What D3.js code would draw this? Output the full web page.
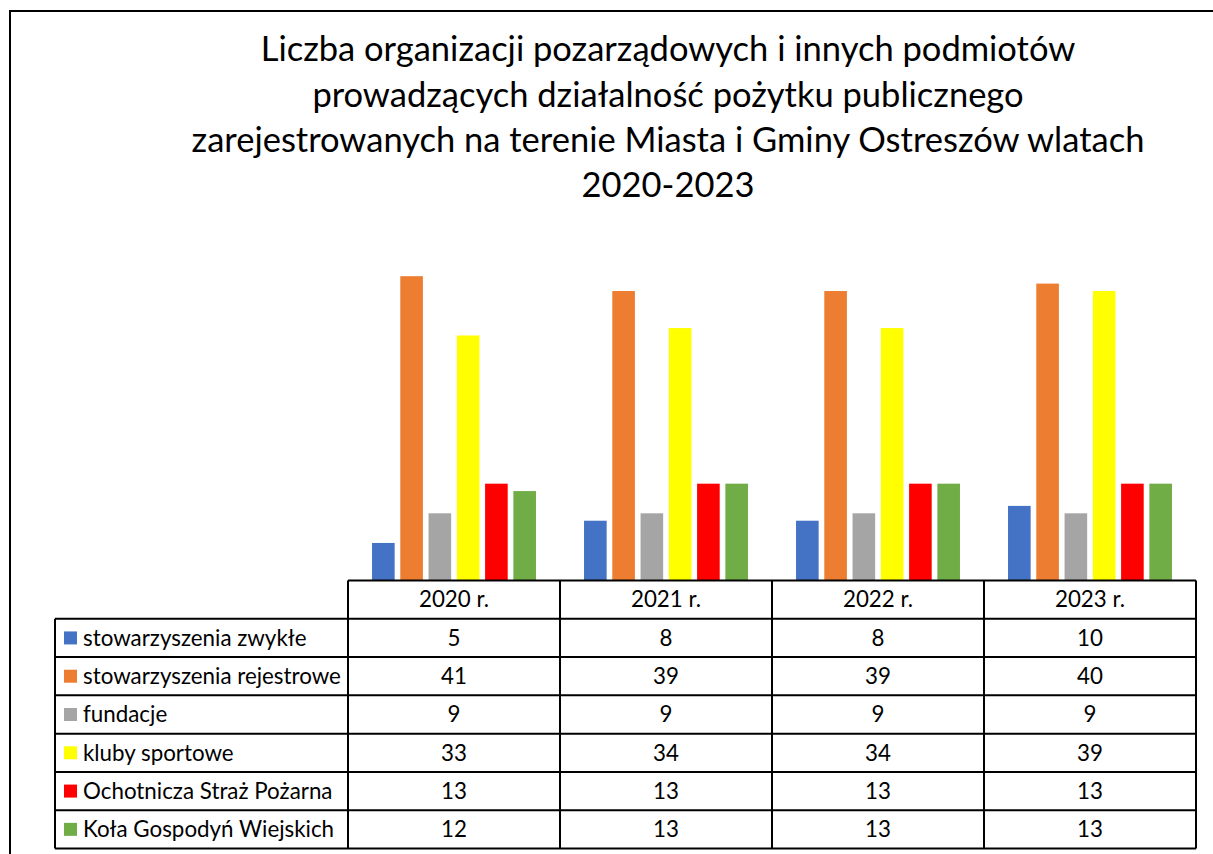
<!DOCTYPE html>
<html>
<head>
<meta charset="utf-8">
<script src="https://cdn.jsdelivr.net/npm/d3@7/dist/d3.min.js"></script>
<style>
  html, body { margin: 0; padding: 0; background: #fff; }
  svg { display: block; }
  text { font-family: Lato, "Open Sans", "Noto Sans", sans-serif; fill: #000; }
</style>
</head>
<body>
<svg id="chart" width="1213" height="854"></svg>
<script>
const titleLines = [
  "Liczba organizacji pozarządowych i innych podmiotów",
  "prowadzących działalność pożytku publicznego",
  "zarejestrowanych na terenie Miasta i Gminy Ostreszów wlatach",
  "2020-2023"
];
const categories = ["2020 r.", "2021 r.", "2022 r.", "2023 r."];
const seriesNames = [
  "stowarzyszenia zwykłe",
  "stowarzyszenia rejestrowe",
  "fundacje",
  "kluby sportowe",
  "Ochotnicza Straż Pożarna",
  "Koła Gospodyń Wiejskich"
];
const seriesColors = ["#4472C4", "#ED7D31", "#A5A5A5", "#FFFF00", "#FF0000", "#70AD47"];
const stowZwykle     = [5, 8, 8, 10];
const stowRejestrowe = [41, 39, 39, 40];
const fundacje       = [9, 9, 9, 9];
const klubySportowe  = [33, 34, 34, 39];
const osp            = [13, 13, 13, 13];
const kgw            = [12, 13, 13, 13];
const seriesValues = [stowZwykle, stowRejestrowe, fundacje, klubySportowe, osp, kgw];
const yMax = 45;

const svg = d3.select("#chart");

// outer chart border (clipped at right/bottom as in the reference)
svg.append("path")
  .attr("d", "M10,854 L10,11 L1213,11")
  .attr("fill", "none").attr("stroke", "#000").attr("stroke-width", 2);

// helper to fit font size to a target width
function fitSize(str, baseSize, targetWidth) {
  const t = svg.append("text").attr("font-size", baseSize).text(str);
  const w = t.node().getComputedTextLength();
  t.remove();
  return baseSize * targetWidth / w;
}

// title
const titleSize = fitSize(titleLines[2], 30, 953);
const titleBaselines = [61, 107, 152, 197];
svg.append("g").selectAll("text").data(titleLines).join("text")
  .attr("x", 668).attr("y", (d, i) => titleBaselines[i])
  .attr("text-anchor", "middle")
  .attr("font-size", titleSize)
  .text(d => d);

// scales
const x0 = d3.scaleBand().domain(categories).range([348, 1196]).paddingInner(0).paddingOuter(0);
const x1 = d3.scaleBand().domain(seriesNames).range([0, x0.bandwidth()]).paddingInner(0.2).paddingOuter(0.85);
const y = d3.scaleLinear().domain([0, yMax]).range([580, 580 - yMax * 7.41]);

// bars
const barData = [];
seriesNames.forEach((s, si) => {
  categories.forEach((c, ci) => {
    barData.push({ s, c, v: seriesValues[si][ci], color: seriesColors[si] });
  });
});
svg.append("g").selectAll("rect").data(barData).join("rect")
  .attr("x", d => x0(d.c) + x1(d.s))
  .attr("y", d => y(d.v))
  .attr("width", x1.bandwidth())
  .attr("height", d => y(0) - y(d.v))
  .attr("fill", d => d.color);

// data table
const rowKeys = ["header"].concat(seriesNames);
const rowY = d3.scaleBand().domain(rowKeys).range([580.5, 848.5]);
const tableLeft = 55;
const tableRight = x0.range()[1];
const colLeft = x0.range()[0];
const table = svg.append("g");
const cellFont = fitSize("stowarzyszenia rejestrowe", 17, 258);

// horizontal lines
table.append("line")
  .attr("x1", colLeft).attr("x2", tableRight)
  .attr("y1", rowY("header")).attr("y2", rowY("header"))
  .attr("stroke", "#000").attr("stroke-width", 2);
seriesNames.forEach(s => {
  table.append("line")
    .attr("x1", tableLeft).attr("x2", tableRight)
    .attr("y1", rowY(s)).attr("y2", rowY(s))
    .attr("stroke", "#000").attr("stroke-width", 2);
});
const tableBottom = rowY(seriesNames[seriesNames.length - 1]) + rowY.bandwidth();
table.append("line")
  .attr("x1", tableLeft).attr("x2", tableRight)
  .attr("y1", tableBottom).attr("y2", tableBottom)
  .attr("stroke", "#000").attr("stroke-width", 2);

// vertical lines
table.append("line")
  .attr("x1", tableLeft).attr("x2", tableLeft)
  .attr("y1", rowY(seriesNames[0])).attr("y2", tableBottom)
  .attr("stroke", "#000").attr("stroke-width", 2);
categories.forEach(c => {
  table.append("line")
    .attr("x1", x0(c)).attr("x2", x0(c))
    .attr("y1", rowY("header")).attr("y2", tableBottom)
    .attr("stroke", "#000").attr("stroke-width", 2);
});
table.append("line")
  .attr("x1", tableRight).attr("x2", tableRight)
  .attr("y1", rowY("header")).attr("y2", tableBottom)
  .attr("stroke", "#000").attr("stroke-width", 2);

// header labels
table.selectAll("text.hdr").data(categories).join("text")
  .attr("class", "hdr")
  .attr("x", d => x0(d) + x0.bandwidth() / 2)
  .attr("y", rowY("header") + rowY.bandwidth() / 2)
  .attr("dy", "0.35em")
  .attr("text-anchor", "middle")
  .attr("font-size", cellFont)
  .text(d => d);

// legend keys and labels
seriesNames.forEach((s, si) => {
  const cy = rowY(s) + rowY.bandwidth() / 2;
  table.append("rect")
    .attr("x", 64).attr("y", cy - 6.5)
    .attr("width", 13).attr("height", 13)
    .attr("fill", seriesColors[si]);
  table.append("text")
    .attr("x", 83).attr("y", cy).attr("dy", "0.35em")
    .attr("font-size", cellFont)
    .text(s);
  categories.forEach((c, ci) => {
    table.append("text")
      .attr("x", x0(c) + x0.bandwidth() / 2)
      .attr("y", cy).attr("dy", "0.35em")
      .attr("text-anchor", "middle")
      .attr("font-size", cellFont)
      .text(seriesValues[si][ci]);
  });
});
</script>
</body>
</html>
